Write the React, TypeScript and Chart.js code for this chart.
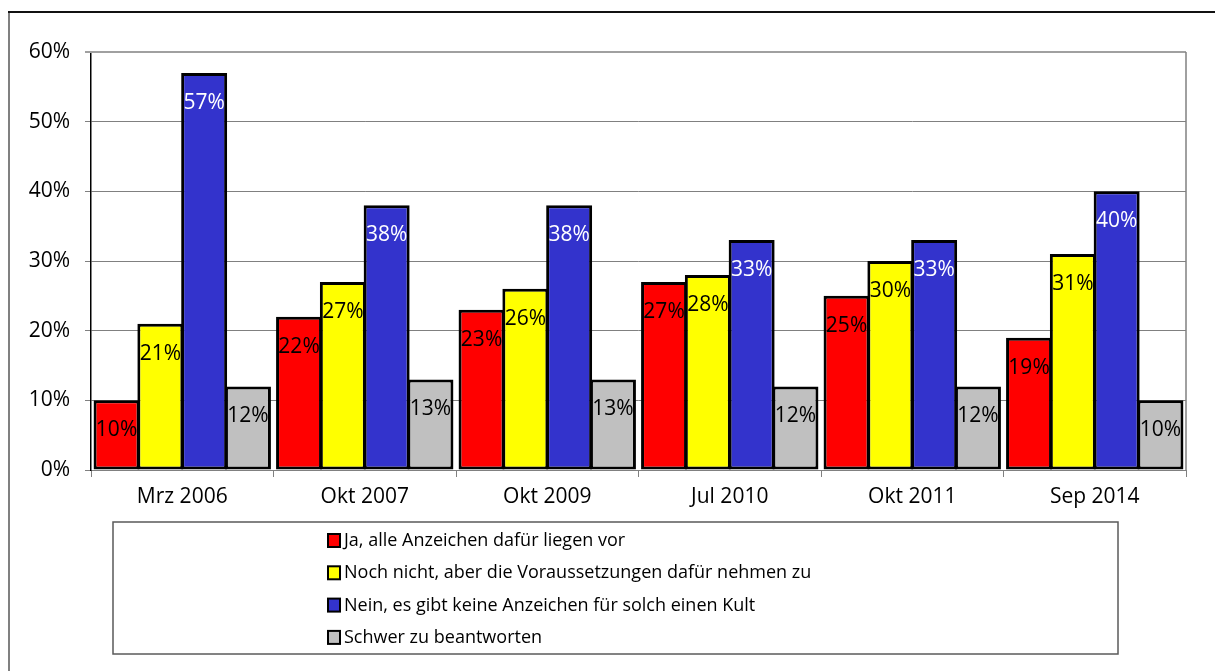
import React, { useEffect, useRef } from 'react';
import { Chart, registerables } from 'chart.js';

Chart.register(...registerables);

const categories = ['Mrz 2006', 'Okt 2007', 'Okt 2009', 'Jul 2010', 'Okt 2011', 'Sep 2014'];
const seriesNames = [
  'Ja, alle Anzeichen dafür liegen vor',
  'Noch nicht, aber die Voraussetzungen dafür nehmen zu',
  'Nein, es gibt keine Anzeichen für solch einen Kult',
  'Schwer zu beantworten',
];
const jaValues = [10, 22, 23, 27, 25, 19];
const nochValues = [21, 27, 26, 28, 30, 31];
const neinValues = [57, 38, 38, 33, 33, 40];
const schwerValues = [12, 13, 13, 12, 12, 10];
const yTicks = [0, 10, 20, 30, 40, 50, 60];

const seriesColors = ['#FF0000', '#FFFF00', '#3333CC', '#C0C0C0'];
const labelColors = ['#000000', '#000000', '#FFFFFF', '#000000'];

const FONT = '"Open Sans", "Noto Sans", sans-serif';

const decorPlugin = {
  id: 'decor',
  beforeDraw(chart: any) {
    const ctx = chart.ctx;
    ctx.save();
    ctx.fillStyle = '#FFFFFF';
    ctx.fillRect(0, 0, chart.width, chart.height);
    // outer frame
    ctx.strokeStyle = '#808080';
    ctx.lineWidth = 2;
    ctx.beginPath();
    ctx.moveTo(9, 12);
    ctx.lineTo(9, chart.height);
    ctx.stroke();
    ctx.strokeStyle = '#111111';
    ctx.lineWidth = 2;
    ctx.beginPath();
    ctx.moveTo(8, 12);
    ctx.lineTo(chart.width, 12);
    ctx.stroke();
    ctx.restore();
  },
  beforeDatasetsDraw(chart: any) {
    const ctx = chart.ctx;
    const a = chart.chartArea;
    ctx.save();
    ctx.strokeStyle = '#A0A0A0';
    ctx.lineWidth = 2;
    ctx.beginPath();
    ctx.moveTo(a.left - 6, a.top);
    ctx.lineTo(a.right, a.top);
    ctx.stroke();
    ctx.strokeStyle = '#808080';
    ctx.lineWidth = 1.5;
    ctx.beginPath();
    ctx.moveTo(a.right, a.top);
    ctx.lineTo(a.right, a.bottom);
    ctx.stroke();
    ctx.restore();
  },
  afterDatasetsDraw(chart: any) {
    const ctx = chart.ctx;
    ctx.save();
    ctx.font = `21px ${FONT}`;
    ctx.textAlign = 'center';
    ctx.textBaseline = 'middle';
    chart.data.datasets.forEach((ds: any, i: number) => {
      const meta = chart.getDatasetMeta(i);
      meta.data.forEach((el: any, j: number) => {
        ctx.fillStyle = labelColors[i];
        ctx.fillText(`${ds.data[j]}%`, el.x, el.y + 30);
      });
    });
    ctx.restore();
  },
  afterDraw(chart: any) {
    const ctx = chart.ctx;
    const a = chart.chartArea;
    ctx.save();
    const boxTop = a.bottom + 52;
    const boxBottom = boxTop + 132;
    const boxLeft = 113;
    const boxRight = 1118;
    ctx.strokeStyle = '#5A5A5A';
    ctx.lineWidth = 1.5;
    ctx.strokeRect(boxLeft, boxTop, boxRight - boxLeft, boxBottom - boxTop);
    ctx.font = `18px ${FONT}`;
    ctx.textAlign = 'left';
    ctx.textBaseline = 'middle';
    chart.data.datasets.forEach((ds: any, i: number) => {
      const cy = boxTop + 18 + i * 32.3;
      ctx.fillStyle = seriesColors[i];
      ctx.fillRect(328, cy - 6, 12, 13);
      ctx.strokeStyle = '#000000';
      ctx.lineWidth = 2;
      ctx.strokeRect(328, cy - 6, 12, 13);
      ctx.fillStyle = '#000000';
      ctx.fillText(ds.label, 344, cy + 1);
    });
    ctx.restore();
  },
};

export default function App() {
  const ref = useRef<HTMLCanvasElement | null>(null);
  useEffect(() => {
    if (!ref.current) return;
    const seriesValues = [jaValues, nochValues, neinValues, schwerValues];
    const chart = new Chart(ref.current, {
      type: 'bar',
      data: {
        labels: categories,
        datasets: seriesNames.map((name, i) => ({
          label: name,
          data: seriesValues[i],
          backgroundColor: seriesColors[i],
          borderColor: '#000000',
          borderWidth: 3,
          borderSkipped: false,
          categoryPercentage: 0.96,
          barPercentage: 1.05,
        })),
      },
      options: {
        responsive: false,
        animation: false,
        devicePixelRatio: 1,
        layout: { padding: { left: 12, right: 29, top: 52, bottom: 151 } },
        plugins: {
          legend: { display: false },
          tooltip: { enabled: false },
        },
        scales: {
          x: {
            grid: {
              display: true,
              drawOnChartArea: false,
              drawTicks: true,
              tickLength: 7,
              color: '#808080',
              offset: true,
            },
            border: { display: true, color: '#808080', width: 1 },
            ticks: { color: '#000000', font: { family: FONT, size: 21 }, padding: 7 },
            afterFit: (s: any) => {
              s.height = 50;
            },
          },
          y: {
            min: 0,
            max: 60,
            afterBuildTicks: (s: any) => {
              s.ticks = yTicks.map((v) => ({ value: v }));
            },
            ticks: {
              color: '#000000',
              font: { family: FONT, size: 21 },
              padding: 15,
              callback: (v: any) => `${v}%`,
            },
            grid: { color: '#808080', tickLength: 6, lineWidth: 1 },
            border: { display: true, color: '#000000', width: 1.5 },
            afterFit: (s: any) => {
              s.width = 79;
            },
          },
        },
      },
      plugins: [decorPlugin],
    });
    return () => chart.destroy();
  }, []);
  return (
    <div style={{ position: 'absolute', left: 0, top: 0, width: 1215, height: 671 }}>
      <canvas ref={ref} width={1215} height={671} />
    </div>
  );
}
